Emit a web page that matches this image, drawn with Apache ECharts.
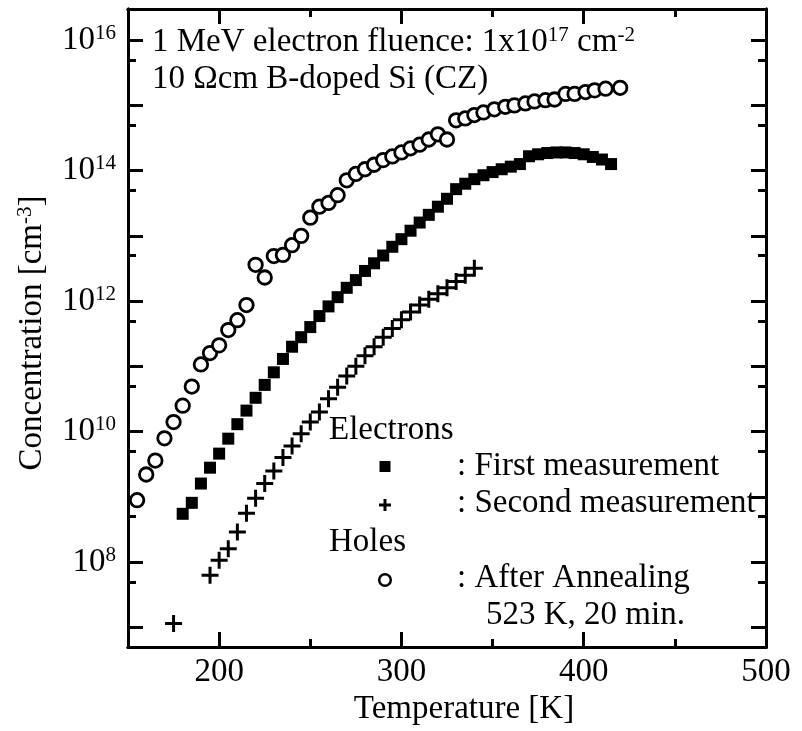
<!DOCTYPE html>
<html><head><meta charset="utf-8">
<script src="https://cdn.jsdelivr.net/npm/echarts@6/dist/echarts.min.js"></script>
<style>html,body{margin:0;padding:0;background:#fff}#c{width:802px;height:731px}</style>
</head><body><div id="c"></div>
<script>
const FONT = '"Liberation Serif","Times New Roman",serif';

// Electrons, first measurement (filled squares)
const firstT = [180,185,190,195,200,205,210,215,220,225,230,235,240,245,250,255,260,265,270,275,280,285,290,295,300,305,310,315,320,325,330,335,340,345,350,355,360,365,370,375,380,385,390,395,400,405,410,415];
const firstN = [5.5e8,8.1e8,1.6e9,2.8e9,4.6e9,7.8e9,1.3e10,2.1e10,3.3e10,5.2e10,8.1e10,1.3e11,2.0e11,2.8e11,4.0e11,5.9e11,8.3e11,1.15e12,1.6e12,2.1e12,2.9e12,3.8e12,5.0e12,6.8e12,8.9e12,1.2e13,1.6e13,2.1e13,2.8e13,3.7e13,5.2e13,6.3e13,7.4e13,8.5e13,9.5e13,1.05e14,1.15e14,1.26e14,1.66e14,1.78e14,1.86e14,1.9e14,1.9e14,1.86e14,1.78e14,1.62e14,1.48e14,1.26e14];

// Electrons, second measurement (plus signs)
const secondT = [175,195,200,205,210,215,220,225,230,235,240,245,250,255,260,265,270,275,280,285,290,295,300,305,310,315,320,325,330,335,340];
const secondN = [1.15e7,6.3e7,1.07e8,1.6e8,2.9e8,5.6e8,9.5e8,1.6e9,2.5e9,4.0e9,6.0e9,9.3e9,1.4e10,2.0e10,3.2e10,4.8e10,7.1e10,1.0e11,1.45e11,2.0e11,2.8e11,3.8e11,5.2e11,6.8e11,8.7e11,1.07e12,1.3e12,1.6e12,2.0e12,2.5e12,3.2e12];

// Holes, after annealing (open circles)
const holesT = [155,160,165,170,175,180,185,190,195,200,205,210,215,220,225,230,235,240,245,250,255,260,265,270,275,280,285,290,295,300,305,310,315,320,325,330,335,340,345,351,357,362,368,373,379,384,390,395,401,406,412,420];
const holesN = [8.9e8,2.2e9,3.6e9,7.9e9,1.4e10,2.5e10,4.9e10,1.07e11,1.6e11,2.1e11,3.6e11,5.1e11,8.7e11,3.6e12,2.3e12,4.9e12,5.1e12,7.2e12,1.0e13,1.9e13,2.8e13,3.2e13,4.2e13,7.1e13,8.9e13,1.05e14,1.23e14,1.45e14,1.65e14,1.9e14,2.2e14,2.5e14,3.0e14,3.6e14,3.0e14,5.9e14,6.3e14,7.1e14,7.8e14,8.7e14,9.5e14,1.0e15,1.07e15,1.15e15,1.2e15,1.23e15,1.5e15,1.5e15,1.6e15,1.7e15,1.8e15,1.86e15];

// Axis ticks
const xMin = 150, xMax = 500;
const xMajorTicks = [200,300,400,500];
const xMinorTicks = [250,350,450];
const yMin = 5e6, yMax = 3e16;
const yMajorTicks = [1e7,1e8,1e9,1e10,1e11,1e12,1e13,1e14,1e15,1e16];
const yMinorTicks = [5e7,5e8,5e9,5e10,5e11,5e12,5e13,5e14,5e15];
const yLabelTicks = [1e8,1e10,1e12,1e14,1e16];

const pair = (xs, ys) => xs.map((x, i) => [x, ys[i]]);

const supRich = {
  b: {fontSize: 33, fontFamily: FONT, color: '#000'},
  s: {fontSize: 21, fontFamily: FONT, color: '#000', padding: [0,0,14,0]}
};

const lineStyle = {color: '#000', width: 3};

function xAxisDef(pos, ticks, len, labels) {
  return {
    type: 'value', min: xMin, max: xMax, position: pos,
    axisLine: {show: true, onZero: false, lineStyle: lineStyle},
    axisTick: {show: true, inside: true, length: len, customValues: ticks, lineStyle: lineStyle},
    axisLabel: labels ? {show: true, customValues: labels, fontSize: 33, fontFamily: FONT, color: '#000', margin: 9} : {show: false},
    splitLine: {show: false}, minorTick: {show: false}
  };
}
function yAxisDef(pos, ticks, len, labels) {
  return {
    type: 'log', logBase: 10, min: yMin, max: yMax, position: pos,
    axisLine: {show: true, onZero: false, lineStyle: lineStyle},
    axisTick: {show: true, inside: true, length: len, customValues: ticks, lineStyle: lineStyle},
    axisLabel: labels ? {
      show: true, customValues: labels, margin: 12, fontFamily: FONT, fontSize: 33, color: '#000',
      formatter: v => '{b|10}{s|' + Math.round(Math.log10(v)) + '}',
      rich: supRich
    } : {show: false},
    splitLine: {show: false}, minorTick: {show: false}
  };
}

const textStyle = (t, extra) => Object.assign({text: t, fontSize: 33, fontFamily: FONT, fill: '#000', align: 'left', verticalAlign: 'middle', rich: supRich}, extra || {});

const chart = echarts.init(document.getElementById('c'), null, {renderer: 'canvas'});
chart.setOption({
  animation: false,
  backgroundColor: '#fff',
  grid: {left: 128, top: 9, width: 638, height: 638, containLabel: false, outerBoundsMode: 'none'},
  xAxis: [
    xAxisDef('bottom', xMajorTicks, 15, xMajorTicks),
    xAxisDef('bottom', xMinorTicks, 8, null),
    xAxisDef('top', xMajorTicks, 15, null),
    xAxisDef('top', xMinorTicks, 8, null)
  ],
  yAxis: [
    yAxisDef('left', yMajorTicks, 15, yLabelTicks),
    yAxisDef('left', yMinorTicks, 8, null),
    yAxisDef('right', yMajorTicks, 15, null),
    yAxisDef('right', yMinorTicks, 8, null)
  ],
  series: [
    {type: 'scatter', name: 'First measurement', xAxisIndex: 0, yAxisIndex: 0, data: pair(firstT, firstN),
     symbol: 'rect', symbolSize: 12, itemStyle: {color: '#000', opacity: 1}},
    {type: 'scatter', name: 'Second measurement', xAxisIndex: 0, yAxisIndex: 0, data: pair(secondT, secondN),
     symbol: 'path://M7,0H10V17H7Z M0,7H17V10H0Z', symbolSize: 17, itemStyle: {color: '#000', opacity: 1}},
    {type: 'scatter', name: 'After Annealing', xAxisIndex: 0, yAxisIndex: 0, data: pair(holesT, holesN),
     symbol: 'circle', symbolSize: 13.5, itemStyle: {color: '#fff', borderColor: '#000', borderWidth: 2.8, opacity: 1}}
  ],
  graphic: [
    {type: 'text', x: 32, y: 333, rotation: Math.PI / 2, style: textStyle('Concentration [cm{s|-3}]', {align: 'center'})},
    {type: 'text', x: 464, y: 709, style: textStyle('Temperature [K]', {align: 'center'})},
    {type: 'text', x: 152, y: 42, style: textStyle('1 MeV electron fluence: 1x10{s|17} cm{s|-2}')},
    {type: 'text', x: 152, y: 79, style: textStyle('10 \u03A9cm B-doped Si (CZ)')},
    {type: 'text', x: 329, y: 430, style: textStyle('Electrons')},
    {type: 'rect', shape: {x: 379.5, y: 461, width: 11, height: 11}, style: {fill: '#000'}},
    {type: 'text', x: 457, y: 466, style: textStyle(': First measurement')},
    {type: 'rect', shape: {x: 379, y: 503.5, width: 12, height: 3}, style: {fill: '#000'}},
    {type: 'rect', shape: {x: 383.5, y: 499, width: 3, height: 12}, style: {fill: '#000'}},
    {type: 'text', x: 457, y: 503, style: textStyle(': Second measurement')},
    {type: 'text', x: 329, y: 542, style: textStyle('Holes')},
    {type: 'circle', shape: {cx: 385, cy: 580, r: 5.8}, style: {fill: '#fff', stroke: '#000', lineWidth: 2.5}},
    {type: 'text', x: 457, y: 578, style: textStyle(': After Annealing')},
    {type: 'text', x: 486, y: 615, style: textStyle('523 K, 20 min.')}
  ]
});
</script>
</body></html>
